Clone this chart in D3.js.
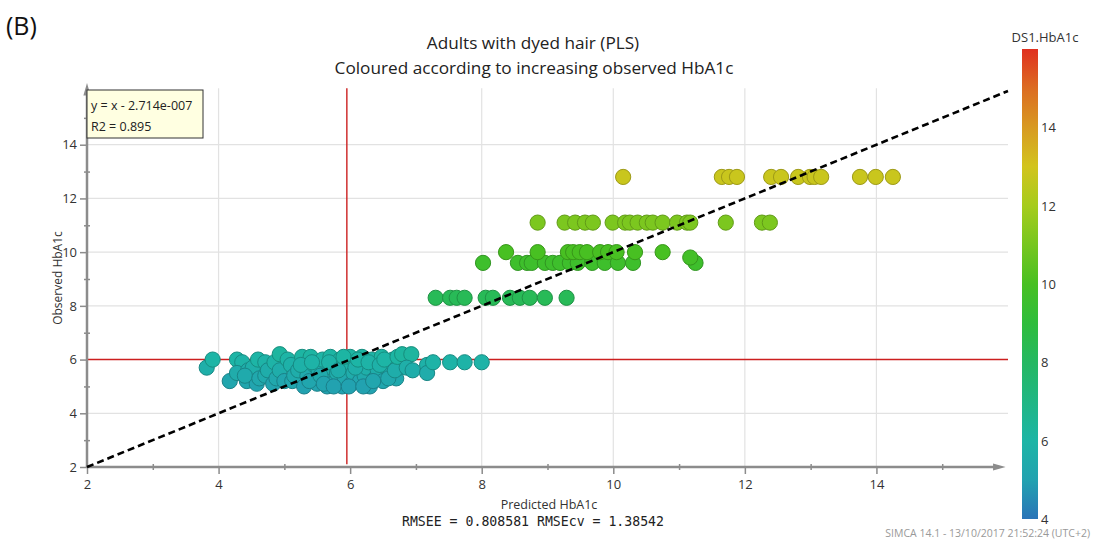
<!DOCTYPE html>
<html>
<head>
<meta charset="utf-8">
<script src="https://cdn.jsdelivr.net/npm/d3@7"></script>
<style>
  body { margin: 0; background: #fff; }
  text { font-family: "Open Sans", sans-serif; }
</style>
</head>
<body>
<div id="chart"></div>
<script>
// predicted values for each observed HbA1c level (upper rows)
const row12_8 = [10.15, 11.65, 11.76, 11.88, 12.40, 12.55, 12.81, 12.99, 13.06, 13.16, 13.75, 13.99, 14.25];
const row11_1 = [8.85, 9.26, 9.42, 9.57, 9.69, 9.99, 10.18, 10.25, 10.37, 10.51, 10.60, 10.75, 10.97, 11.12, 11.17, 11.71, 12.26, 12.38];
const row10_0 = [8.37, 8.85, 9.31, 9.39, 9.49, 9.60, 9.80, 9.92, 10.05, 10.33, 10.75];
const row9_8 = [11.17];
const row9_6 = [8.02, 8.55, 8.69, 8.76, 8.96, 9.08, 9.19, 9.34, 9.46, 9.68, 9.87, 10.07, 10.30, 11.25];
const row8_3 = [7.30, 7.52, 7.62, 7.74, 8.06, 8.17, 8.43, 8.58, 8.73, 8.96, 9.29];

// [predicted, observed] for the low cluster
const lowGroup = [
  [3.82,5.7],[3.91,6.0],[4.17,5.2],[4.28,6.0],[4.36,5.9],[4.28,5.5],[4.43,5.2],[4.45,5.6],[4.52,5.7],[4.58,5.1],
  [4.40,5.4],[4.60,6.0],[4.62,5.3],[4.71,5.9],[4.71,5.4],[4.75,5.6],[4.83,5.1],[4.85,5.9],[4.88,5.3],[4.93,6.2],
  [4.93,5.6],[5.00,5.2],[5.05,6.0],[5.10,5.8],[5.12,5.2],[5.15,5.4],[5.21,5.6],[5.27,6.1],
  [5.30,5.0],[5.35,5.4],[5.40,6.1],[5.45,5.8],[5.50,5.1],[5.52,5.6],[5.58,6.0],[5.62,5.3],[5.65,5.0],[5.70,6.1],
  [5.72,5.7],[5.78,5.2],[5.80,5.5],[5.85,6.0],[5.88,5.0],[5.92,5.3],[5.95,5.8],[6.00,6.1],[6.02,5.1],[6.05,5.5],
  [6.10,5.9],[6.15,5.2],[6.18,6.1],[6.22,5.4],[6.25,5.7],[6.30,5.0],[6.33,6.0],[6.38,5.3],[6.42,5.6],[6.48,6.1],
  [6.50,5.2],[6.55,5.8],[6.60,5.5],[6.65,6.0],[6.70,5.3],[6.75,5.7],[6.80,5.9],
  [5.25,5.8],[5.38,5.2],[5.42,5.9],[5.55,5.4],[5.60,5.1],[5.68,5.9],[5.75,5.0],[5.82,5.6],[5.90,6.1],[5.98,5.0],
  [6.08,5.7],[6.12,6.0],[6.20,5.0],[6.28,5.9],[6.35,5.2],[6.45,5.8],[6.52,6.0],[6.58,5.3],[6.68,5.6],[6.72,6.1],
  [6.79,6.2],[6.93,6.2],[6.86,5.7],[6.95,5.6],[7.17,5.8],[7.17,5.5],[7.26,5.9],[7.52,5.9],[7.74,5.9],[8.00,5.9]
];

const xTicks = [2, 4, 6, 8, 10, 12, 14];
const yTicks = [2, 4, 6, 8, 10, 12, 14];
const minorTicks = [3, 5, 7, 9, 11, 13, 15];
const gridTicks = [4, 8, 10, 12, 14];
const colorTicks = [4, 6, 8, 10, 12, 14];
const colorStops = [4, 5, 6, 8, 9, 10, 12, 13, 14, 15, 16];
const colorValues = ["#2a74b8", "#22a2b0", "#1db5a6", "#25b862", "#2ebd3c", "#48c022", "#a6cc1c", "#d2c41d", "#d89a22", "#dc6c22", "#e0301f"];

let points = lowGroup.map(d => ({p: d[0], o: d[1]}));
[[row8_3, 8.3], [row9_6, 9.6], [row9_8, 9.8], [row10_0, 10.0], [row11_1, 11.1], [row12_8, 12.8]]
  .forEach(r => r[0].forEach(p => points.push({p: p, o: r[1]})));

const width = 1095,
      height = 541;

let svg = d3.select("#chart")
  .append("svg")
  .attr("width", width)
  .attr("height", height);

let x = d3.scaleLinear().domain([2, 16]).range([87, 1008]);
let y = d3.scaleLinear().domain([2, 16]).range([467, 91]);
let color = d3.scaleLinear().domain(colorStops).range(colorValues);

svg.append("defs").append("marker")
  .attr("id", "arrow")
  .attr("viewBox", "0 -5 14 10")
  .attr("refX", 2)
  .attr("refY", 0)
  .attr("markerUnits", "userSpaceOnUse")
  .attr("markerWidth", 15)
  .attr("markerHeight", 9)
  .attr("orient", "auto")
  .append("path")
  .attr("d", "M0,-4L14,0L0,4Z")
  .attr("fill", "#8c8c8c");

// grid
svg.append("g").selectAll("line")
  .data(gridTicks)
  .enter().append("line")
  .attr("x1", d => x(d)).attr("x2", d => x(d))
  .attr("y1", y(2)).attr("y2", y(16.1))
  .style("stroke", "#e2e2e2").style("stroke-width", "1.2px");

svg.append("g").selectAll("line")
  .data(gridTicks)
  .enter().append("line")
  .attr("x1", x(2)).attr("x2", x(16))
  .attr("y1", d => y(d)).attr("y2", d => y(d))
  .style("stroke", "#e2e2e2").style("stroke-width", "1.2px");

// reference lines
svg.append("line")
  .attr("x1", x(5.95)).attr("x2", x(5.95))
  .attr("y1", y(16.1)).attr("y2", y(2.1))
  .style("stroke", "#cc1f1f").style("stroke-width", "1.4px");

svg.append("line")
  .attr("x1", x(2)).attr("x2", x(16))
  .attr("y1", y(6)).attr("y2", y(6))
  .style("stroke", "#cc1f1f").style("stroke-width", "1.4px");

// axes
let xAxis = svg.append("g")
  .attr("transform", "translate(0," + y(2) + ")")
  .call(d3.axisBottom(x).tickValues(xTicks).tickSize(7).tickPadding(6));
let xMinor = svg.append("g")
  .attr("transform", "translate(0," + (y(2) - 3) + ")")
  .call(d3.axisBottom(x).tickValues(minorTicks).tickSize(6).tickFormat(""));
let yAxis = svg.append("g")
  .attr("transform", "translate(" + x(2) + ",0)")
  .call(d3.axisLeft(y).tickValues(yTicks).tickSize(7).tickPadding(3));
let yMinor = svg.append("g")
  .attr("transform", "translate(" + (x(2) + 3) + ",0)")
  .call(d3.axisLeft(y).tickValues(minorTicks).tickSize(6).tickFormat(""));

[xAxis, xMinor, yAxis, yMinor].forEach(a => {
  a.select(".domain").remove();
  a.selectAll("line").style("stroke", "#8c8c8c").style("stroke-width", "1.5px");
  a.selectAll("text").style("font-family", "\"Open Sans\", sans-serif").style("font-size", "13px").style("fill", "#333");
});

svg.append("line")
  .attr("x1", x(2)).attr("x2", x(15.8))
  .attr("y1", y(2)).attr("y2", y(2))
  .attr("marker-end", "url(#arrow)")
  .style("stroke", "#8c8c8c").style("stroke-width", "2.5px");

svg.append("line")
  .attr("x1", x(2)).attr("x2", x(2))
  .attr("y1", y(2)).attr("y2", y(15.9))
  .attr("marker-end", "url(#arrow)")
  .style("stroke", "#8c8c8c").style("stroke-width", "2.5px");

// points
svg.append("g").selectAll("circle")
  .data(points)
  .enter().append("circle")
  .attr("cx", d => x(d.p))
  .attr("cy", d => y(d.o))
  .attr("r", 7.6)
  .style("fill", d => color(d.o))
  .style("stroke", d => d3.color(color(d.o)).darker(0.7))
  .style("stroke-width", "1px");

// y = x line
svg.append("line")
  .attr("x1", x(2)).attr("y1", y(2))
  .attr("x2", x(16)).attr("y2", y(16))
  .style("stroke", "#000")
  .style("stroke-width", "2.6px")
  .style("stroke-dasharray", "7,4");

// equation box
svg.append("rect")
  .attr("x", 87).attr("y", 90)
  .attr("width", 116).attr("height", 48)
  .style("fill", "#ffffe1")
  .style("stroke", "#333").style("stroke-width", "1px");
svg.append("text").attr("x", 91).attr("y", 110).text("y = x - 2.714e-007")
  .style("font-size", "12.5px").style("fill", "#222");
svg.append("text").attr("x", 91).attr("y", 131).text("R2 = 0.895")
  .style("font-size", "12.5px").style("fill", "#222");

// colour bar
let grad = svg.select("defs").append("linearGradient")
  .attr("id", "cbar")
  .attr("x1", "0").attr("y1", "1").attr("x2", "0").attr("y2", "0");
grad.selectAll("stop")
  .data(colorStops)
  .enter().append("stop")
  .attr("offset", d => (d - 4) / 12)
  .attr("stop-color", d => color(d));

let cy = d3.scaleLinear().domain([4, 16]).range([519, 49]);
svg.append("rect")
  .attr("x", 1022).attr("y", cy(16))
  .attr("width", 16).attr("height", cy(4) - cy(16))
  .style("fill", "url(#cbar)");
svg.append("g").selectAll("text")
  .data(colorTicks)
  .enter().append("text")
  .attr("x", 1041)
  .attr("y", d => cy(d) + 5)
  .text(d => d)
  .style("font-size", "13px").style("fill", "#333");
svg.append("text").attr("x", 1045).attr("y", 42).text("DS1.HbA1c")
  .style("text-anchor", "middle").style("font-size", "13px").style("fill", "#333");

// titles and labels
svg.append("text").attr("x", 6).attr("y", 35).text("(B)")
  .style("font-size", "25px").style("fill", "#111");
svg.append("text").attr("x", 533).attr("y", 49).text("Adults with dyed hair (PLS)")
  .style("text-anchor", "middle").style("font-size", "17.2px").style("fill", "#222");
svg.append("text").attr("x", 534).attr("y", 74).text("Coloured according to increasing observed HbA1c")
  .style("text-anchor", "middle").style("font-size", "17.2px").style("fill", "#222");
svg.append("text")
  .attr("transform", "translate(62,278) rotate(-90)")
  .text("Observed HbA1c")
  .style("text-anchor", "middle").style("font-size", "12px").style("fill", "#333");
svg.append("text").attr("x", 549).attr("y", 509).text("Predicted HbA1c")
  .style("text-anchor", "middle").style("font-size", "12.5px").style("fill", "#333");
svg.append("text").attr("x", 533).attr("y", 526).text("RMSEE = 0.808581 RMSEcv = 1.38542")
  .style("text-anchor", "middle").style("font-family", "\"DejaVu Sans Mono\", monospace")
  .style("font-size", "13.2px").style("fill", "#222");
svg.append("text").attr("x", 1090).attr("y", 537).text("SIMCA 14.1 - 13/10/2017 21:52:24 (UTC+2)")
  .style("text-anchor", "end").style("font-size", "10.5px").style("fill", "#999");
</script>
</body>
</html>
